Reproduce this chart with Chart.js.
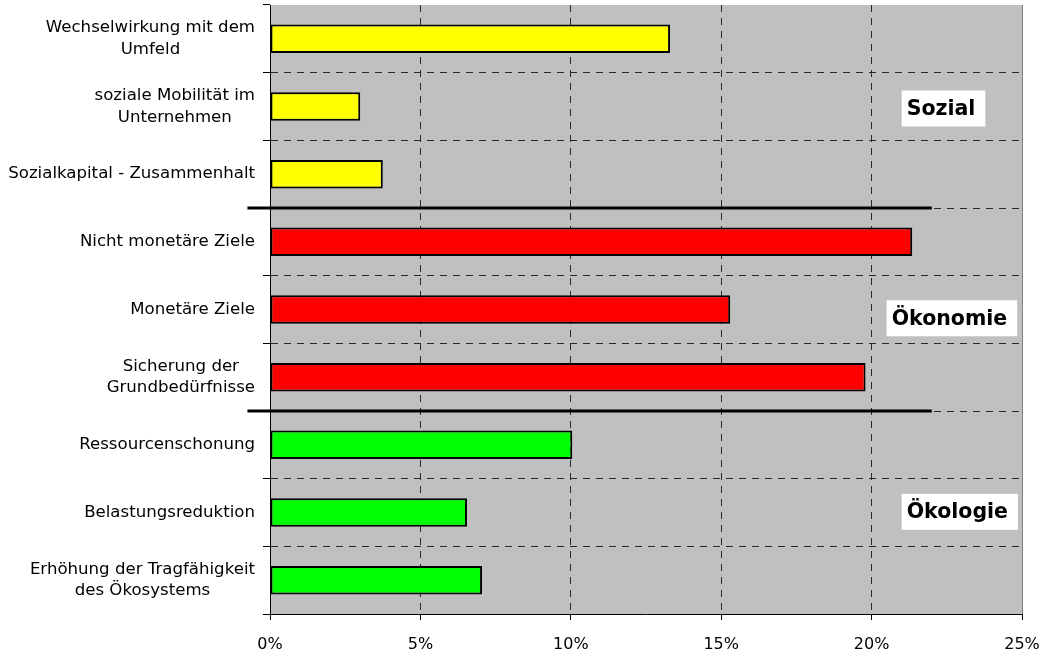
<!DOCTYPE html>
<html>
<head>
<meta charset="utf-8">
<script src="https://cdn.jsdelivr.net/npm/chart.js@4"></script>
<style>
  html, body { margin: 0; padding: 0; background: #fff; }
  #wrap { width: 1047px; height: 657px; }
</style>
</head>
<body>
<div id="wrap"><canvas id="chart"></canvas></div>
<script>
const labels = [
  ["Wechselwirkung mit dem", "Umfeld"],
  ["soziale Mobilität im", "Unternehmen"],
  ["Sozialkapital - Zusammenhalt"],
  ["Nicht monetäre Ziele"],
  ["Monetäre Ziele"],
  ["Sicherung der", "Grundbedürfnisse"],
  ["Ressourcenschonung"],
  ["Belastungsreduktion"],
  ["Erhöhung der Tragfähigkeit", "des Ökosystems"]
];
const values = [13.3, 3.0, 3.75, 21.35, 15.3, 19.8, 10.05, 6.55, 7.05];
const barColors = ["#ffff00", "#ffff00", "#ffff00", "#ff0000", "#ff0000", "#ff0000", "#00ff00", "#00ff00", "#00ff00"];
const xTicks = [0, 5, 10, 15, 20, 25];

// group captions: text, left edge (%), vertical position (category units)
const groupNames = ["Sozial", "Ökonomie", "Ökologie"];
const groupX = [21.0, 20.5, 21.0];
const groupY = [1.03, 4.13, 6.99];
// separators sit between these category indexes
const separatorsAfter = [2, 5];

const FONT = "DejaVu Sans";

const plotBackground = {
  id: "plotBackground",
  beforeDraw(chart) {
    const { ctx, chartArea: a } = chart;
    ctx.save();
    ctx.fillStyle = "#c0c0c0";
    ctx.fillRect(a.left, a.top, a.right - a.left, a.bottom - a.top);
    ctx.restore();
  }
};

const decorations = {
  id: "decorations",
  afterDatasetsDraw(chart) {
    const { ctx, chartArea: a, scales: { x, y } } = chart;
    ctx.save();

    // right frame line
    ctx.strokeStyle = "#808080";
    ctx.lineWidth = 1;
    ctx.beginPath();
    ctx.moveTo(Math.round(a.right) + 0.5, a.top);
    ctx.lineTo(Math.round(a.right) + 0.5, a.bottom);
    ctx.stroke();

    // thick separators between the groups
    ctx.strokeStyle = "#000";
    ctx.lineWidth = 3;
    separatorsAfter.forEach(i => {
      const yy = (y.getPixelForValue(i) + y.getPixelForValue(i + 1)) / 2;
      ctx.beginPath();
      ctx.moveTo(x.getPixelForValue(-0.75), yy);
      ctx.lineTo(x.getPixelForValue(22), yy);
      ctx.stroke();
    });

    // group captions in white boxes
    ctx.font = "bold 20.5px '" + FONT + "'";
    ctx.textBaseline = "middle";
    ctx.textAlign = "left";
    groupNames.forEach((name, i) => {
      const left = x.getPixelForValue(groupX[i]);
      const cy = y.getPixelForValue(groupY[i]);
      const w = ctx.measureText(name).width;
      ctx.fillStyle = "#fff";
      ctx.fillRect(left, cy - 18, w + 15, 36);
      ctx.fillStyle = "#000";
      ctx.fillText(name, left + 5, cy + 1);
    });
    ctx.restore();
  },
  afterDraw(chart) {
    // category labels: lines centred on each other, block right-aligned
    const { ctx, chartArea: a, scales: { y } } = chart;
    const right = a.left - 15;
    const lh = 21.5;
    ctx.save();
    ctx.font = "16.6px '" + FONT + "'";
    ctx.fillStyle = "#000";
    ctx.textAlign = "center";
    ctx.textBaseline = "middle";
    labels.forEach((lines, i) => {
      const cy = y.getPixelForValue(i);
      const w = Math.max(...lines.map(t => ctx.measureText(t).width));
      const cx = right - w / 2;
      lines.forEach((t, j) => {
        ctx.fillText(t, cx, cy + (j - (lines.length - 1) / 2) * lh);
      });
    });
    ctx.restore();
  }
};

new Chart(document.getElementById("chart"), {
  type: "bar",
  data: {
    labels: labels.map(l => l.join(" ")),
    datasets: [{
      data: values,
      backgroundColor: barColors,
      borderColor: "#000",
      borderWidth: 2,
      borderSkipped: false,
      categoryPercentage: 1,
      barPercentage: 0.42
    }]
  },
  options: {
    indexAxis: "y",
    responsive: true,
    maintainAspectRatio: false,
    animation: false,
    layout: { padding: { left: 263, right: 25, top: 5, bottom: 0 } },
    plugins: { legend: { display: false }, tooltip: { enabled: false } },
    scales: {
      x: {
        min: 0,
        max: 25,
        afterBuildTicks: axis => { axis.ticks = xTicks.map(v => ({ value: v })); },
        afterFit: axis => {
          axis.height = 43;
          axis.paddingLeft = 0;
          axis.paddingRight = 0;
        },
        grid: {
          color: c => (c.tick && (c.tick.value === 0 || c.tick.value === 25)) ? "rgba(0,0,0,0)" : "#2a2a2a",
          lineWidth: 1,
          tickLength: 6,
          tickColor: "#000"
        },
        border: { display: true, color: "#000", width: 1, dash: [7, 6] },
        ticks: {
          padding: 15,
          maxRotation: 0,
          color: "#000",
          font: { family: FONT, size: 16 },
          callback: v => v + "%"
        }
      },
      y: {
        grid: {
          offset: true,
          color: c => c.index === 0 ? "rgba(0,0,0,0)" : "#2a2a2a",
          lineWidth: 1,
          tickLength: 7,
          tickColor: "#000"
        },
        border: { display: true, color: "#000", width: 1, dash: [7, 6] },
        ticks: { display: false }
      }
    }
  },
  plugins: [plotBackground, decorations]
});
</script>
</body>
</html>
